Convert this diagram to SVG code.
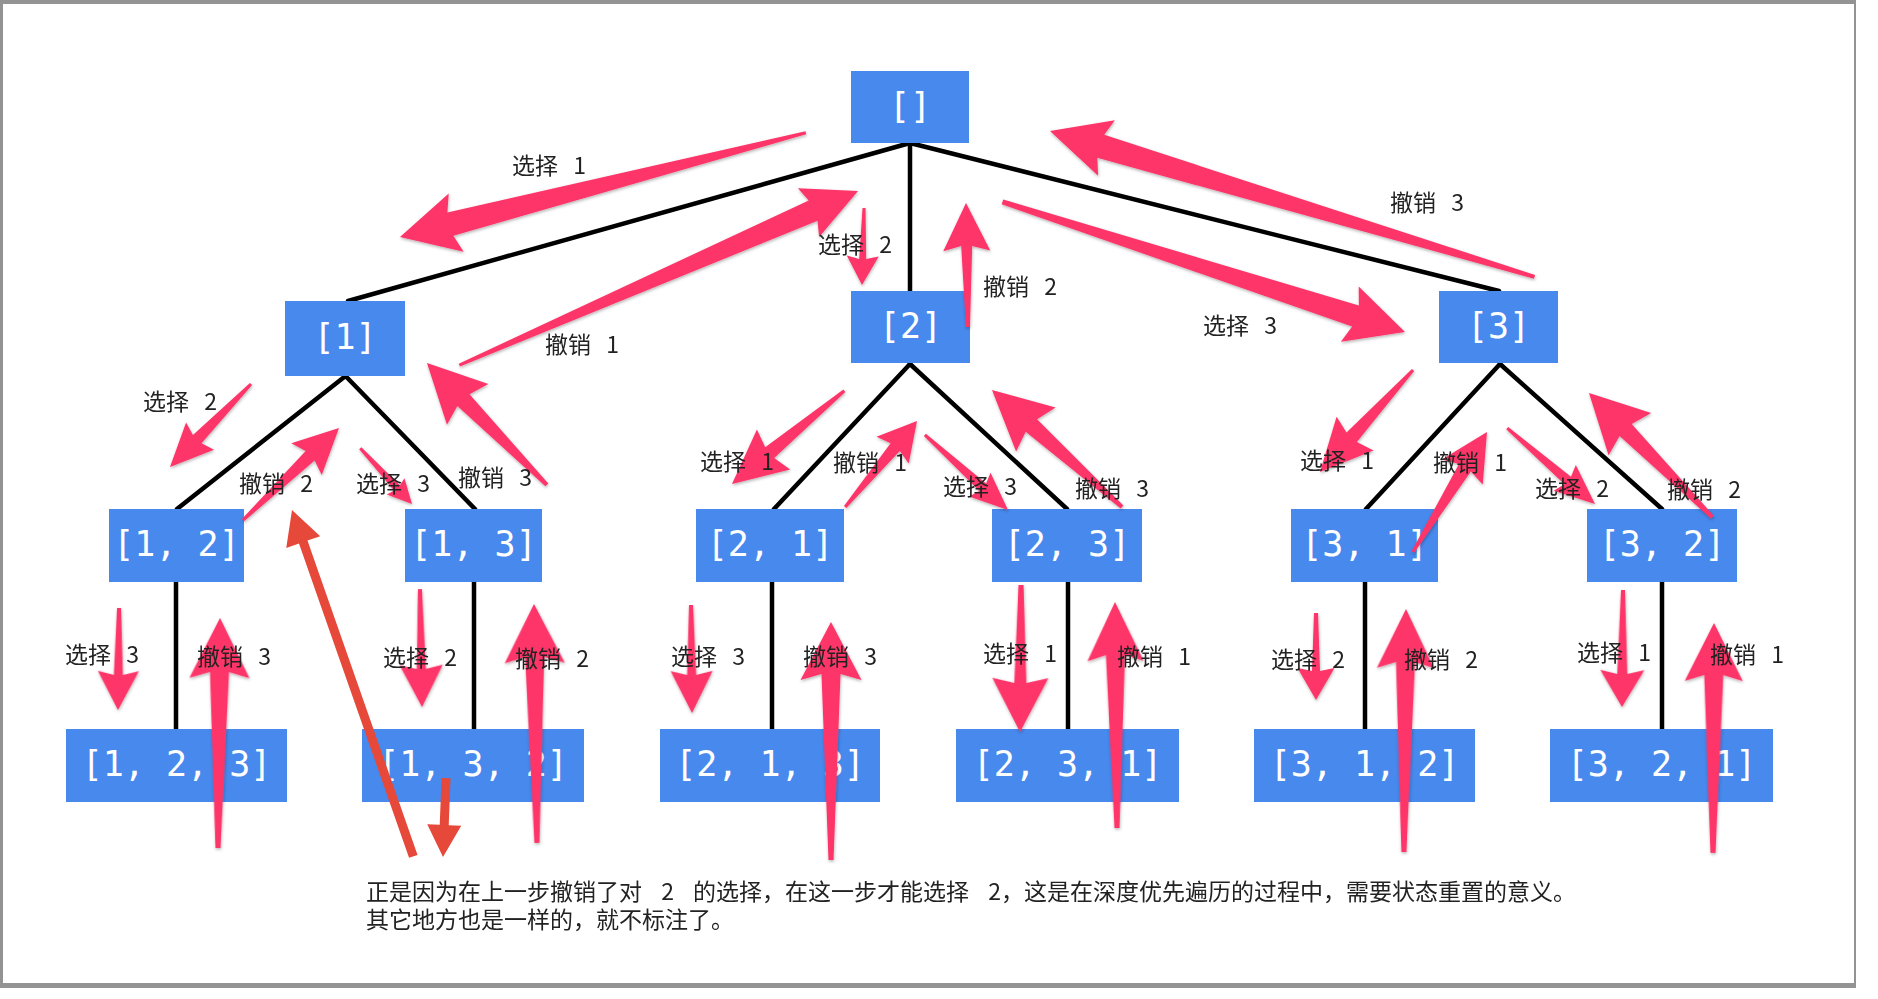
<svg xmlns="http://www.w3.org/2000/svg" width="1878" height="999" viewBox="0 0 1878 999">
<style>
.frame{fill:#939393}
.node rect{fill:#4889ED}
.node text{font-family:"DejaVu Sans Mono","Liberation Mono",monospace;font-size:35px;fill:#fff;text-anchor:middle}
.edge{stroke:#000;stroke-width:4.5;fill:none;stroke-linecap:round}
.lbl{font-family:"Noto Sans CJK SC","Noto Sans",sans-serif;font-size:23px;fill:#222;word-spacing:10px}
.note{font-family:"Noto Sans CJK SC","Noto Sans",sans-serif;font-size:23px;fill:#222;word-spacing:14px}
.pk{fill:#FE3468}
.rd{fill:#E6483A}
</style>
<defs>
<filter id="sh" x="-10%" y="-10%" width="120%" height="120%">
<feDropShadow dx="0.5" dy="1.5" stdDeviation="1.5" flood-color="#000" flood-opacity="0.3"/>
</filter>
</defs>
<rect x="0" y="0" width="1878" height="999" fill="#fff"/>
<g id="frame">
<rect class="frame" x="0" y="0" width="1856" height="4"/>
<rect class="frame" x="0" y="0" width="3" height="988"/>
<rect class="frame" x="1854" y="0" width="2" height="988"/>
<rect class="frame" x="0" y="983" width="1856" height="5"/>
</g>
<g id="connectors">
<line class="edge" x1="910" y1="143" x2="348" y2="301"/>
<line class="edge" x1="910" y1="143" x2="910" y2="291"/>
<line class="edge" x1="910" y1="143" x2="1499" y2="291"/>
<line class="edge" x1="345.5" y1="376" x2="177" y2="509"/>
<line class="edge" x1="345.5" y1="376" x2="475" y2="509"/>
<line class="edge" x1="910" y1="364" x2="774" y2="509"/>
<line class="edge" x1="910" y1="364" x2="1067" y2="509"/>
<line class="edge" x1="1500" y1="364" x2="1366" y2="509"/>
<line class="edge" x1="1500" y1="364" x2="1662" y2="509"/>
<line class="edge" x1="176" y1="582" x2="176" y2="729"/>
<line class="edge" x1="474" y1="582" x2="474" y2="729"/>
<line class="edge" x1="772" y1="582" x2="772" y2="729"/>
<line class="edge" x1="1068" y1="582" x2="1068" y2="729"/>
<line class="edge" x1="1365" y1="582" x2="1365" y2="729"/>
<line class="edge" x1="1662" y1="582" x2="1662" y2="729"/>
</g>
<g id="n-root" class="node"><rect x="851" y="71" width="118" height="72"/><text x="910" y="117.5">[]</text></g>
<g id="n-1" class="node"><rect x="285" y="301" width="120" height="75"/><text x="345" y="349">[1]</text></g>
<g id="n-2" class="node"><rect x="851" y="291" width="119" height="72"/><text x="910.5" y="337.5">[2]</text></g>
<g id="n-3" class="node"><rect x="1439" y="291" width="119" height="72"/><text x="1498.5" y="337.5">[3]</text></g>
<g id="n-12" class="node"><rect x="109" y="509" width="135" height="73"/><text x="176.5" y="556">[1, 2]</text></g>
<g id="n-13" class="node"><rect x="405" y="509" width="137" height="73"/><text x="473.5" y="556">[1, 3]</text></g>
<g id="n-21" class="node"><rect x="696" y="509" width="148" height="73"/><text x="770" y="556">[2, 1]</text></g>
<g id="n-23" class="node"><rect x="992" y="509" width="150" height="73"/><text x="1067" y="556">[2, 3]</text></g>
<g id="n-31" class="node"><rect x="1291" y="509" width="147" height="73"/><text x="1364.5" y="556">[3, 1]</text></g>
<g id="n-32" class="node"><rect x="1587" y="509" width="150" height="73"/><text x="1662" y="556">[3, 2]</text></g>
<g id="n-123" class="node"><rect x="66" y="729" width="221" height="73"/><text x="176.5" y="776">[1, 2, 3]</text></g>
<g id="n-132" class="node"><rect x="362" y="729" width="222" height="73"/><text x="473" y="776">[1, 3, 2]</text></g>
<g id="n-213" class="node"><rect x="660" y="729" width="220" height="73"/><text x="770" y="776">[2, 1, 3]</text></g>
<g id="n-231" class="node"><rect x="956" y="729" width="223" height="73"/><text x="1067.5" y="776">[2, 3, 1]</text></g>
<g id="n-312" class="node"><rect x="1254" y="729" width="221" height="73"/><text x="1364.5" y="776">[3, 1, 2]</text></g>
<g id="n-321" class="node"><rect x="1550" y="729" width="223" height="73"/><text x="1661.5" y="776">[3, 2, 1]</text></g>
<g id="pink-arrows" filter="url(#sh)">
<polygon class="pk" transform="translate(400,237) rotate(165.6)" points="-419,-1.5 -52,-12 -58,-30 0,0 -58,30 -52,12 -419,1.5"/>
<polygon class="pk" transform="translate(858,191) rotate(-23.6)" points="-435,-1.5 -49,-11 -54,-26.5 0,0 -54,26.5 -49,11 -435,1.5"/>
<polygon class="pk" transform="translate(862,285) rotate(91.5)" points="-77,-1.5 -26,-3.5 -29,-16 0,0 -29,16 -26,3.5 -77,1.5"/>
<polygon class="pk" transform="translate(966,203) rotate(-90.9)" points="-124,-2 -43,-5.5 -48,-23.5 0,0 -48,23.5 -43,5.5 -124,2"/>
<polygon class="pk" transform="translate(1405,332) rotate(17.9)" points="-423,-2.5 -52,-11 -58,-29 0,0 -58,29 -52,11 -423,2.5"/>
<polygon class="pk" transform="translate(1050,131) rotate(-163.25)" points="-506,-2 -53,-12 -59,-29 0,0 -59,29 -53,12 -506,2"/>
<polygon class="pk" transform="translate(170,467) rotate(134.3)" points="-116,-1.5 -39,-6 -43,-19.5 0,0 -43,19.5 -39,6 -116,1.5"/>
<polygon class="pk" transform="translate(339,428) rotate(-43.8)" points="-133,-1.5 -40,-6.5 -45,-22 0,0 -45,22 -40,6.5 -133,1.5"/>
<polygon class="pk" transform="translate(412,504) rotate(47.1)" points="-76,-1.5 -22,-4 -24,-12 0,0 -24,12 -22,4 -76,1.5"/>
<polygon class="pk" transform="translate(427,363) rotate(-134.5)" points="-171,-2 -52,-8.5 -58,-29 0,0 -58,29 -52,8.5 -171,2"/>
<polygon class="pk" transform="translate(732,484) rotate(140.3)" points="-146,-1.5 -49,-7 -54,-26 0,0 -54,26 -49,7 -146,1.5"/>
<polygon class="pk" transform="translate(917,421) rotate(-50.1)" points="-112,-1.5 -34,-6 -38,-21 0,0 -38,21 -34,6 -112,1.5"/>
<polygon class="pk" transform="translate(1008,510) rotate(42.1)" points="-112,-1.5 -34,-5 -38,-16 0,0 -38,16 -34,5 -112,1.5"/>
<polygon class="pk" transform="translate(992,390) rotate(-138)" points="-175,-2 -53,-8.5 -59,-29.5 0,0 -59,29.5 -53,8.5 -175,2"/>
<polygon class="pk" transform="translate(1320,472) rotate(132.4)" points="-138,-1.5 -47,-7 -52,-25 0,0 -52,25 -47,7 -138,1.5"/>
<polygon class="pk" transform="translate(1487,432) rotate(-58.3)" points="-141,-1.5 -42,-7 -47,-24 0,0 -47,24 -42,7 -141,1.5"/>
<polygon class="pk" transform="translate(1595,504) rotate(40.8)" points="-116,-1.5 -36,-5 -40,-17 0,0 -40,17 -36,5 -116,1.5"/>
<polygon class="pk" transform="translate(1589,393) rotate(-134.8)" points="-175,-2 -52,-8.5 -58,-30 0,0 -58,30 -52,8.5 -175,2"/>
<polygon class="pk" transform="translate(118,710) rotate(90.6)" points="-102,-2 -35,-4.5 -39,-20.5 0,0 -39,20.5 -35,4.5 -102,2"/>
<polygon class="pk" transform="translate(220,618) rotate(-89.5)" points="-230,-2.5 -54,-9.5 -60,-30 0,0 -60,30 -54,9.5 -230,2.5"/>
<polygon class="pk" transform="translate(422,707) rotate(89)" points="-118,-2 -38,-4.5 -42,-21.5 0,0 -42,21.5 -38,4.5 -118,2"/>
<polygon class="pk" transform="translate(534,604) rotate(-90.7)" points="-239,-2.5 -53,-9.5 -59,-30 0,0 -59,30 -53,9.5 -239,2.5"/>
<polygon class="pk" transform="translate(692,713) rotate(89.5)" points="-108,-2 -38,-4.5 -42,-21 0,0 -42,21 -38,4.5 -108,2"/>
<polygon class="pk" transform="translate(831,622) rotate(-90)" points="-238,-2.5 -52,-9.5 -58,-30.5 0,0 -58,30.5 -52,9.5 -238,2.5"/>
<polygon class="pk" transform="translate(1020,732) rotate(90.4)" points="-147,-2.5 -49,-6 -54,-28 0,0 -54,28 -49,6 -147,2.5"/>
<polygon class="pk" transform="translate(1115,602) rotate(-90.5)" points="-226,-2.5 -53,-9.5 -59,-28 0,0 -59,28 -53,9.5 -226,2.5"/>
<polygon class="pk" transform="translate(1316,700) rotate(90)" points="-87,-2 -29,-4 -32,-18.5 0,0 -32,18.5 -29,4 -87,2"/>
<polygon class="pk" transform="translate(1406,609) rotate(-89.5)" points="-243,-2.5 -53,-9.5 -59,-28.5 0,0 -59,28.5 -53,9.5 -243,2.5"/>
<polygon class="pk" transform="translate(1622,707) rotate(90.5)" points="-117,-2 -33,-5 -37,-22 0,0 -37,22 -33,5 -117,2"/>
<polygon class="pk" transform="translate(1714,623) rotate(-89.75)" points="-230,-2.5 -52,-9.5 -58,-29 0,0 -58,29 -52,9.5 -230,2.5"/>
</g>
<g id="red-arrows">
<polygon class="rd" transform="translate(292,510) rotate(-109.3)" points="-367,-4.5 -34,-4.5 -34,-18 0,0 -34,18 -34,4.5 -367,4.5"/>
<polygon class="rd" transform="translate(443,857) rotate(92.2)" points="-79,-4.5 -32,-4.5 -32,-17 0,0 -32,17 -32,4.5 -79,4.5"/>
</g>
<g id="labels" class="lbl">
<text x="512" y="174">选择 1</text>
<text x="545" y="353">撤销 1</text>
<text x="818" y="253">选择 2</text>
<text x="983" y="295">撤销 2</text>
<text x="1203" y="334">选择 3</text>
<text x="1390" y="211">撤销 3</text>
<text x="143" y="410">选择 2</text>
<text x="239" y="492">撤销 2</text>
<text x="356" y="492">选择 3</text>
<text x="458" y="486">撤销 3</text>
<text x="700" y="470">选择 1</text>
<text x="833" y="471">撤销 1</text>
<text x="943" y="495">选择 3</text>
<text x="1075" y="497">撤销 3</text>
<text x="1300" y="469">选择 1</text>
<text x="1433" y="471">撤销 1</text>
<text x="1535" y="497">选择 2</text>
<text x="1667" y="498">撤销 2</text>
<text x="65" y="663">选择 3</text>
<text x="197" y="665">撤销 3</text>
<text x="383" y="666">选择 2</text>
<text x="515" y="667">撤销 2</text>
<text x="671" y="665">选择 3</text>
<text x="803" y="665">撤销 3</text>
<text x="983" y="662">选择 1</text>
<text x="1117" y="665">撤销 1</text>
<text x="1271" y="668">选择 2</text>
<text x="1404" y="668">撤销 2</text>
<text x="1577" y="661">选择 1</text>
<text x="1710" y="663">撤销 1</text>
</g>
<g id="note" class="note">
<text x="366" y="900">正是因为在上一步撤销了对 2 的选择，在这一步才能选择 2，这是在深度优先遍历的过程中，需要状态重置的意义。</text>
<text x="366" y="928">其它地方也是一样的，就不标注了。</text>
</g>
</svg>
